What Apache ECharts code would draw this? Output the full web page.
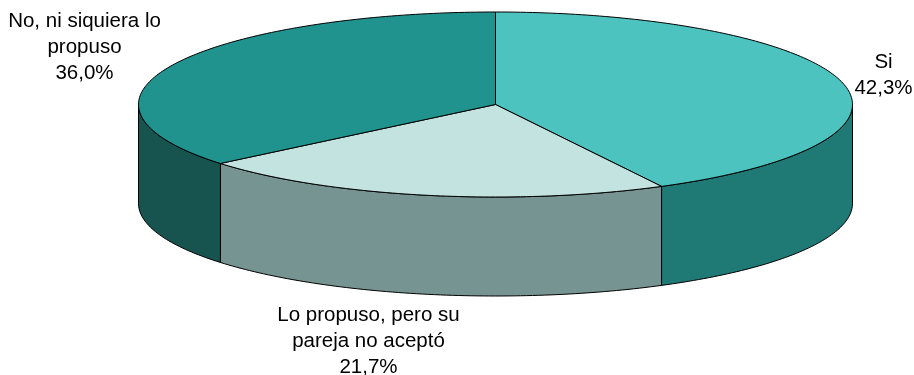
<!DOCTYPE html>
<html>
<head>
<meta charset="utf-8">
<style>
  html, body { margin: 0; padding: 0; background: #fff; }
  #chart_box { width: 914px; height: 375px; }
</style>
<script src="https://cdn.jsdelivr.net/npm/echarts@6/dist/echarts.min.js"></script>
</head>
<body>
<div id="chart_box"></div>
<script>
let categories = ['Si', 'Lo propuso, pero su\npareja no aceptó', 'No, ni siquiera lo\npropuso'];
let values = [42.3, 21.7, 36.0];
let topColors = ['#4DC3BF', '#C3E3E0', '#20938E'];
let sideColors = ['#1F7A76', '#769492', '#17534F'];
let labelCenters = [[883.5, 49], [368.5, 302], [84.5, 8]];

// ellipse of the pie lid, and height of the wall
let cx = 495.5, cy = 104.5, rx = 357, ry = 92.5, depth = 99;
let total = values.reduce(function (a, b) { return a + b; }, 0);

function point(deg, dy) {
    let r = deg * Math.PI / 180;
    return [cx + rx * Math.sin(r), cy - ry * Math.cos(r) + (dy || 0)];
}

function arc(from, to, dy) {
    let pts = [];
    let n = Math.max(2, Math.ceil(Math.abs(to - from)));
    for (let i = 0; i <= n; i++) {
        pts.push(point(from + (to - from) * i / n, dy));
    }
    return pts;
}

function renderSlice(params, api) {
    let i = params.dataIndex;
    let before = 0;
    for (let k = 0; k < i; k++) before += values[k];
    let start = before / total * 360;
    let end = start + api.value(1) / total * 360;
    let children = [];

    // only the front half of the wall shows
    let a = Math.max(start, 90), b = Math.min(end, 270);
    if (b > a) {
        children.push({
            type: 'polygon',
            shape: { points: arc(a, b, 0).concat(arc(b, a, depth)) },
            style: { fill: sideColors[i], stroke: '#000', lineWidth: 1 }
        });
    }
    children.push({
        type: 'polygon',
        shape: { points: [[cx, cy]].concat(arc(start, end, 0)) },
        style: { fill: topColors[i], stroke: '#000', lineWidth: 1, lineJoin: 'round' }
    });
    children.push({
        type: 'text',
        style: {
            x: labelCenters[i][0],
            y: labelCenters[i][1],
            text: categories[i] + '\n' + api.value(1).toFixed(1).replace('.', ',') + '%',
            align: 'center',
            verticalAlign: 'top',
            fontSize: 20.5,
            fontFamily: '"Liberation Sans", Arial, sans-serif',
            lineHeight: 26.3,
            fill: '#000'
        }
    });
    return { type: 'group', children: children };
}

let myChart = echarts.init(document.getElementById('chart_box'));
let myOption = {
    backgroundColor: '#fff',
    animation: false,
    series: [{
        type: 'custom',
        coordinateSystem: 'none',
        renderItem: renderSlice,
        data: values.map(function (v, i) { return [i, v]; })
    }]
};
myChart.setOption(myOption);
</script>
</body>
</html>
